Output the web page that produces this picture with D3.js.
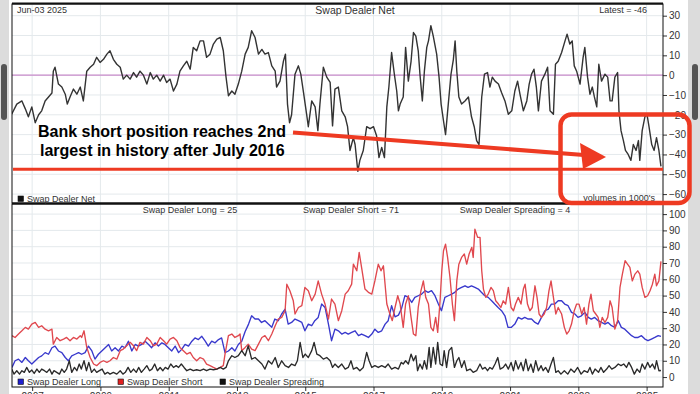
<!DOCTYPE html>
<html>
<head>
<meta charset="utf-8">
<script src="https://cdn.jsdelivr.net/npm/d3@7"></script>
<style>
  body { margin: 0; background: #dcdcdc; }
  .container { width: 700px; height: 394px; }
  svg { display: block; font-family: "Liberation Sans", Arial, sans-serif; }
</style>
</head>
<body>
<div class="container"></div>
<script>
// ---- data (decimal year, value) ----
const netData = [
  [2006.40,-19.7],[2006.55,-14.6],[2006.70,-13],[2006.80,-17],[2006.89,-21],[2006.99,-16],
  [2007.09,-24],[2007.19,-20],[2007.28,-18],[2007.38,-13],[2007.48,-11],[2007.58,-9],
  [2007.62,2],[2007.67,4],[2007.77,-4.5],[2007.87,-6],[2007.97,-9.6],[2008.03,-14.6],
  [2008.11,-11],[2008.21,-7],[2008.31,-9.6],[2008.41,-6],[2008.50,-13],[2008.60,2],
  [2008.70,4],[2008.80,5.5],[2008.89,9],[2008.99,6.4],[2009.09,8],[2009.19,10.6],
  [2009.28,12.3],[2009.38,8],[2009.48,5.5],[2009.58,4],[2009.67,-2],[2009.77,0],
  [2009.87,-2],[2009.97,1.3],[2010.06,-1],[2010.16,2],[2010.26,0],[2010.36,-4.5],
  [2010.46,1.3],[2010.55,-2],[2010.65,0],[2010.75,-3],[2010.85,0],[2010.94,-3.7],
  [2011.04,-2],[2011.14,-8],[2011.24,-4.5],[2011.33,2],[2011.43,4.7],[2011.53,7],
  [2011.63,3],[2011.72,14],[2011.82,12.3],[2011.92,17.3],[2012.02,17.3],[2012.11,9],
  [2012.21,10.6],[2012.31,15.7],[2012.41,18.2],[2012.51,19],[2012.60,12.3],[2012.68,-1],
  [2012.75,-10.4],[2012.85,-8],[2012.94,-9.6],[2013.04,-4.5],[2013.14,2],[2013.24,10.6],
  [2013.33,14],[2013.43,22.4],[2013.53,19],[2013.63,10.6],[2013.73,13],[2013.82,10.6],
  [2013.92,11.4],[2014.02,4.7],[2014.12,2],[2014.16,-6],[2014.26,-3],[2014.36,7],
  [2014.42,10.6],[2014.48,-14.6],[2014.54,-24],[2014.60,-20],[2014.70,0.5],[2014.80,4.7],
  [2014.87,0.5],[2014.95,-8.8],[2015.04,-19.7],[2015.09,-26],[2015.19,-13],[2015.29,-16],
  [2015.37,-28],[2015.43,-14.6],[2015.53,4],[2015.63,-1],[2015.73,-3.7],[2015.80,-25.6],
  [2015.87,-7],[2015.97,-6],[2016.07,-18],[2016.17,-21],[2016.24,-26],[2016.31,-38],
  [2016.41,-31.5],[2016.46,-35],[2016.54,-48.5],[2016.60,-43],[2016.70,-38],[2016.80,-26],
  [2016.90,-27],[2017.00,-26],[2017.09,-30.6],[2017.16,-41.6],[2017.24,-36.5],[2017.32,-41.6],
  [2017.39,-16],[2017.45,-6],[2017.53,11.4],[2017.61,0.5],[2017.68,-8],[2017.73,-18],
  [2017.78,-14.6],[2017.87,-11],[2017.94,14],[2018.02,-3],[2018.10,7],[2018.17,21.5],
  [2018.24,19.7],[2018.31,12.3],[2018.36,0.5],[2018.43,-13],[2018.49,2],[2018.56,14],
  [2018.61,17.3],[2018.68,25],[2018.75,19.7],[2018.85,10.6],[2018.92,-1],[2018.98,-14.6],
  [2019.05,-23],[2019.11,-30],[2019.19,-14.6],[2019.27,0.5],[2019.34,8],[2019.39,17.3],
  [2019.44,2],[2019.50,-11],[2019.58,-14.6],[2019.68,-13],[2019.78,-11],[2019.87,-21],
  [2019.95,-26],[2020.02,-33],[2020.09,-35],[2020.17,-11],[2020.25,0.5],[2020.34,1.3],
  [2020.41,-6],[2020.48,-1],[2020.56,-3],[2020.66,-4.5],[2020.75,-8.8],[2020.85,-13],
  [2020.95,-19.7],[2021.05,-18],[2021.14,-8],[2021.22,-3],[2021.29,-9.6],[2021.39,-18],
  [2021.49,-13],[2021.56,-4.5],[2021.63,0.5],[2021.70,3],[2021.77,-6],[2021.83,-18],
  [2021.92,-3],[2022.02,0.5],[2022.10,4],[2022.17,-18],[2022.27,-19.7],[2022.33,5.5],
  [2022.41,7],[2022.51,11.4],[2022.61,17.3],[2022.67,20.7],[2022.75,15.7],[2022.82,17.3],
  [2022.88,4.7],[2022.95,2],[2023.05,-4.5],[2023.14,9],[2023.19,14],[2023.27,-1],
  [2023.34,-9.6],[2023.41,-6],[2023.47,-11],[2023.54,-16],[2023.60,5.5],[2023.68,-3],
  [2023.78,0.5],[2023.86,-1],[2023.93,-13],[2023.99,-13],[2024.07,-1],[2024.15,1.3],
  [2024.19,-18],[2024.25,-28],[2024.32,-33],[2024.38,-38],[2024.46,-40],[2024.54,-43],
  [2024.61,-35],[2024.69,-38],[2024.76,-33],[2024.80,-43],[2024.87,-28],[2024.95,-21],
  [2025.01,-19.7],[2025.07,-26],[2025.15,-35],[2025.22,-38],[2025.29,-31.5],[2025.36,-38],
  [2025.42,-46]
];

const longData = [
  [2006.41,5.9],[2006.50,10],[2006.60,11],[2006.70,9],[2006.80,12],[2006.89,10],[2006.99,8],
  [2007.09,10],[2007.19,12],[2007.28,13],[2007.38,15],[2007.48,14],[2007.58,18],[2007.67,19],
  [2007.77,16],[2007.87,15],[2007.97,12],[2008.06,10],[2008.16,13],[2008.26,14],[2008.36,15],
  [2008.45,14],[2008.55,15],[2008.65,19],[2008.75,16],[2008.84,11],[2008.94,14],[2009.04,16],
  [2009.14,18],[2009.24,20],[2009.33,16],[2009.43,18],[2009.53,16],[2009.63,19],[2009.72,18],
  [2009.82,22],[2009.92,16],[2010.02,20],[2010.11,19],[2010.21,20],[2010.31,22],[2010.41,20],
  [2010.50,18],[2010.60,21],[2010.70,19],[2010.80,21],[2010.89,20],[2010.99,18],[2011.09,16],
  [2011.19,19],[2011.29,15],[2011.38,17],[2011.48,20],[2011.58,19],[2011.68,22],[2011.77,24],
  [2011.87,23],[2011.97,25],[2012.07,22],[2012.16,19],[2012.26,22],[2012.36,21],[2012.46,23],
  [2012.55,24],[2012.65,15],[2012.75,16],[2012.85,18],[2012.94,16],[2013.04,20],[2013.14,22],
  [2013.24,28],[2013.34,32.5],[2013.43,37.6],[2013.53,35.6],[2013.63,35.6],[2013.72,33.5],
  [2013.82,34.6],[2013.92,32.5],[2014.02,30.5],[2014.11,35.6],[2014.21,34.6],[2014.31,38.7],
  [2014.41,41.7],[2014.50,32.5],[2014.60,33.5],[2014.70,35.6],[2014.80,34.6],[2014.90,33.5],
  [2014.99,28.4],[2015.09,32.5],[2015.19,31.5],[2015.28,34.6],[2015.38,36.6],[2015.48,44.8],
  [2015.58,42.7],[2015.68,32.5],[2015.77,22.3],[2015.87,29.4],[2015.97,28.4],[2016.07,26.4],
  [2016.17,27.4],[2016.26,26.4],[2016.36,27.4],[2016.46,28.4],[2016.56,25.4],[2016.65,26.4],
  [2016.75,25.4],[2016.85,24.3],[2016.95,26.4],[2017.04,29.4],[2017.14,27.4],[2017.24,28.4],
  [2017.34,32.5],[2017.43,34.6],[2017.53,43.8],[2017.63,37],[2017.73,38],[2017.82,42],
  [2017.92,50],[2018.02,48.9],[2018.12,45.8],[2018.21,48.9],[2018.31,49.9],[2018.41,50.9],
  [2018.51,53],[2018.60,52],[2018.70,53],[2018.80,49.9],[2018.90,44.8],[2018.99,40.7],
  [2019.09,48.9],[2019.19,49.9],[2019.29,50.9],[2019.38,52],[2019.48,54],[2019.58,55],
  [2019.68,56],[2019.77,55],[2019.87,56],[2019.97,55],[2020.07,54],[2020.16,52],[2020.26,49.9],
  [2020.36,48.9],[2020.46,46.8],[2020.55,44.8],[2020.65,42.7],[2020.75,40.7],[2020.85,37.6],
  [2020.94,30.5],[2021.04,30.5],[2021.14,32.5],[2021.24,36.6],[2021.34,35.6],[2021.43,36.6],
  [2021.53,35.6],[2021.63,35.6],[2021.73,33.5],[2021.82,32.5],[2021.92,36.6],[2022.02,40.7],
  [2022.12,41.7],[2022.21,44.8],[2022.31,44.8],[2022.41,46.8],[2022.51,46.8],[2022.60,44.8],
  [2022.70,43.8],[2022.80,39.7],[2022.90,38.7],[2022.99,36.6],[2023.09,37.6],[2023.19,39.7],
  [2023.29,36.6],[2023.38,35.6],[2023.48,36.6],[2023.58,34.6],[2023.68,33.5],[2023.78,32.5],
  [2023.87,33.5],[2023.97,31.5],[2024.07,30.5],[2024.17,34.6],[2024.26,30.5],[2024.36,29.4],
  [2024.46,27.4],[2024.56,25.4],[2024.65,24.3],[2024.75,24.3],[2024.85,25.4],[2024.95,23.3],
  [2025.04,22.3],[2025.14,23.3],[2025.24,24.3],[2025.34,25.4],[2025.42,25]
];

const shortData = [
  [2006.41,25.4],[2006.50,24.3],[2006.60,26.4],[2006.70,28.4],[2006.80,30.5],[2006.89,29.4],
  [2006.99,32.5],[2007.09,33.5],[2007.19,30.5],[2007.28,31.5],[2007.38,29.4],[2007.48,28.4],
  [2007.58,29.4],[2007.62,20.2],[2007.72,24.3],[2007.82,22.3],[2007.92,23.3],[2008.01,24.3],
  [2008.11,22.3],[2008.21,24.3],[2008.31,23.3],[2008.41,25.4],[2008.45,24.3],[2008.52,28.4],
  [2008.60,18.2],[2008.70,12],[2008.80,8],[2008.89,7],[2008.99,9],[2009.09,10],[2009.19,9],
  [2009.28,10],[2009.38,12],[2009.48,11],[2009.58,16.2],[2009.67,17.2],[2009.77,19.2],
  [2009.87,21.3],[2009.97,19.2],[2010.06,16.2],[2010.16,21.3],[2010.26,20.2],[2010.36,24.3],
  [2010.46,22.3],[2010.55,19.2],[2010.65,20.2],[2010.75,24.3],[2010.85,22.3],[2010.94,20.2],
  [2011.04,23.3],[2011.14,24.3],[2011.24,22.3],[2011.33,18.2],[2011.43,16.2],[2011.53,14.1],
  [2011.63,15.1],[2011.72,12],[2011.82,10],[2011.92,12],[2012.02,11],[2012.11,8],[2012.21,7],
  [2012.31,5.9],[2012.41,4.9],[2012.51,5.9],[2012.60,7],[2012.65,14.1],[2012.75,25.4],
  [2012.85,26.4],[2012.94,24.3],[2013.04,25.4],[2013.09,26.4],[2013.14,16.2],[2013.24,18.2],
  [2013.33,20.2],[2013.43,17.2],[2013.53,16.2],[2013.63,20.2],[2013.73,24.3],[2013.82,25.4],
  [2013.92,22.3],[2014.02,26.4],[2014.12,31.5],[2014.21,35.6],[2014.31,36.6],[2014.41,40.7],
  [2014.46,57],[2014.55,53],[2014.65,46.8],[2014.70,38.7],[2014.80,42.7],[2014.90,43.8],
  [2014.99,55],[2015.09,53],[2015.19,46.8],[2015.29,50.9],[2015.38,59],[2015.48,50.9],
  [2015.58,44.8],[2015.68,35.6],[2015.77,47.9],[2015.87,44.8],[2015.97,34.6],[2016.07,40.7],
  [2016.17,50.9],[2016.26,53],[2016.36,57],[2016.41,69.3],[2016.51,65.2],[2016.58,76.5],
  [2016.65,67.3],[2016.75,54],[2016.85,52],[2016.95,50.9],[2017.04,59],[2017.14,69.3],
  [2017.22,65.2],[2017.29,68.3],[2017.39,44.8],[2017.48,38.7],[2017.55,34.6],[2017.63,42.7],
  [2017.71,49.9],[2017.78,44.8],[2017.87,30.5],[2017.94,44.8],[2018.02,49.9],[2018.10,36.6],
  [2018.17,26.4],[2018.24,25.4],[2018.31,42.7],[2018.39,53],[2018.46,59],[2018.53,48.9],
  [2018.61,44.8],[2018.68,30.5],[2018.75,28.4],[2018.82,36.6],[2018.88,27.4],[2018.95,46.8],
  [2019.00,65.2],[2019.05,77.5],[2019.11,81.6],[2019.17,73.4],[2019.24,61.1],[2019.31,44.8],
  [2019.37,34.6],[2019.44,59],[2019.50,69.3],[2019.58,73.4],[2019.66,75.5],[2019.73,69.3],
  [2019.80,75.5],[2019.88,79.6],[2019.92,73.4],[2019.97,90.8],[2020.05,85.7],[2020.12,85.7],
  [2020.17,65.2],[2020.22,54],[2020.29,48.9],[2020.36,50.9],[2020.44,55],[2020.51,53],
  [2020.58,46.8],[2020.66,44.8],[2020.73,42.7],[2020.80,46.8],[2020.87,44.8],[2020.95,55],
  [2021.03,42.7],[2021.10,40.7],[2021.16,44.8],[2021.24,48.9],[2021.32,44.8],[2021.39,54],
  [2021.44,57],[2021.51,44.8],[2021.58,40.7],[2021.65,42.7],[2021.73,56],[2021.79,48.9],
  [2021.85,38.7],[2021.92,36.6],[2022.00,38.7],[2022.07,42.7],[2022.14,53],[2022.20,59],
  [2022.27,48.9],[2022.34,38.7],[2022.41,42.7],[2022.51,38.7],[2022.59,30.5],[2022.66,26.4],
  [2022.73,28.4],[2022.80,32.5],[2022.88,40.7],[2022.95,44.8],[2023.02,44.8],[2023.10,38.7],
  [2023.17,42.7],[2023.24,32.5],[2023.31,44.8],[2023.37,50.9],[2023.44,40.7],[2023.51,38.7],
  [2023.58,36.6],[2023.63,30.5],[2023.70,36.6],[2023.78,33.5],[2023.86,36.6],[2023.93,46.8],
  [2023.99,42.7],[2024.07,29.4],[2024.15,34.6],[2024.22,55],[2024.29,63.2],[2024.37,71.4],
  [2024.44,69.3],[2024.51,67.3],[2024.58,59],[2024.66,63.2],[2024.74,65.2],[2024.80,63.2],
  [2024.87,55],[2024.95,48.9],[2025.03,49.9],[2025.10,53],[2025.17,57],[2025.24,63.2],
  [2025.29,56],[2025.36,59],[2025.42,71]
];

const spreadData = [
  [2006.40,4.9],[2006.47,1.8],[2006.55,3.9],[2006.63,1.8],[2006.70,3.9],[2006.77,2.9],
  [2006.84,5.9],[2006.92,2.9],[2006.99,4.3],[2007.06,2.2],[2007.14,4.9],[2007.21,2.9],
  [2007.28,4.9],[2007.36,3.9],[2007.43,2.9],[2007.51,4.9],[2007.58,1.8],[2007.64,3.9],
  [2007.72,2.9],[2007.80,1.8],[2007.87,4.9],[2007.94,2.9],[2008.01,4.9],[2008.09,10],
  [2008.16,2.9],[2008.24,5.9],[2008.31,3.9],[2008.38,8],[2008.44,4.9],[2008.52,10],
  [2008.59,3.9],[2008.66,9],[2008.74,2.9],[2008.82,4.9],[2008.89,2.9],[2008.97,3.9],
  [2009.05,4.9],[2009.13,1.8],[2009.21,2.9],[2009.28,1.8],[2009.38,2.9],[2009.48,1.8],
  [2009.58,3.9],[2009.66,1.8],[2009.73,2.9],[2009.81,5.9],[2009.89,2.9],[2009.97,4.9],
  [2010.05,2.9],[2010.12,5.9],[2010.20,2.9],[2010.28,4.9],[2010.36,7],[2010.44,3.9],
  [2010.51,4.9],[2010.59,8],[2010.67,3.9],[2010.75,5.9],[2010.83,3.9],[2010.90,5.9],
  [2010.98,4.9],[2011.06,8],[2011.14,5.9],[2011.22,7],[2011.29,5.9],[2011.37,8],
  [2011.45,5.9],[2011.53,3.9],[2011.63,4.9],[2011.72,3.9],[2011.82,4.5],[2011.92,3.9],
  [2012.02,4.9],[2012.11,3.9],[2012.21,4.9],[2012.31,4.5],[2012.41,4.9],[2012.51,5.9],
  [2012.60,4.9],[2012.68,5.9],[2012.75,10],[2012.85,13.1],[2012.94,12],[2013.04,13.1],
  [2013.14,16.2],[2013.24,13.1],[2013.33,19.2],[2013.43,11],[2013.53,12],[2013.63,10],
  [2013.73,8],[2013.82,4.9],[2013.92,10],[2014.02,8],[2014.12,12],[2014.21,5.9],
  [2014.31,10],[2014.41,7],[2014.51,5.9],[2014.60,8],[2014.70,7],[2014.77,10],
  [2014.85,21.3],[2014.93,12],[2015.00,14.1],[2015.09,12],[2015.19,16.2],[2015.26,21.3],
  [2015.34,14.1],[2015.43,13.1],[2015.53,11],[2015.63,12],[2015.73,10],[2015.80,5.9],
  [2015.87,8],[2015.97,5.9],[2016.07,8],[2016.17,4.9],[2016.26,5.9],[2016.34,10],
  [2016.41,4.9],[2016.51,5.9],[2016.60,3.9],[2016.70,5.9],[2016.80,15.1],[2016.87,10],
  [2016.95,5.9],[2017.04,7],[2017.14,5.9],[2017.24,7],[2017.34,5.9],[2017.43,8],
  [2017.53,4.9],[2017.63,5.9],[2017.73,4.9],[2017.81,9],[2017.87,8],[2017.94,10],
  [2018.02,8],[2018.10,14.1],[2018.17,10],[2018.24,13.1],[2018.29,3.9],[2018.36,8],
  [2018.43,4.9],[2018.49,10],[2018.56,4.9],[2018.63,18.2],[2018.68,5.9],[2018.75,18.2],
  [2018.82,8],[2018.88,21.3],[2018.95,8],[2019.02,7],[2019.07,16.2],[2019.14,5.9],
  [2019.21,16.2],[2019.29,18.2],[2019.37,5.9],[2019.44,10],[2019.50,12],[2019.58,5.9],
  [2019.66,10],[2019.73,3.9],[2019.83,4.9],[2019.92,2.9],[2020.02,3.9],[2020.12,8],
  [2020.19,4.9],[2020.27,5.9],[2020.34,3.9],[2020.41,5.9],[2020.48,4.9],[2020.56,8],
  [2020.64,12],[2020.71,4.9],[2020.80,5.9],[2020.87,8],[2020.95,4.9],[2021.03,9],
  [2021.10,3.9],[2021.16,10],[2021.24,4.9],[2021.32,9],[2021.39,3.9],[2021.46,11],
  [2021.53,3.9],[2021.61,8],[2021.68,2.9],[2021.75,10],[2021.83,3.9],[2021.91,7],
  [2021.97,3.9],[2022.04,5.9],[2022.12,2.9],[2022.20,8],[2022.27,12],[2022.34,2.9],
  [2022.41,3.9],[2022.49,1.8],[2022.59,3.9],[2022.69,1.8],[2022.78,4.9],[2022.88,2.9],
  [2022.98,5.9],[2023.08,1.8],[2023.17,3.9],[2023.27,2.9],[2023.34,5.9],[2023.41,1.8],
  [2023.49,4.9],[2023.59,2.9],[2023.66,5.9],[2023.74,2.9],[2023.83,4.9],[2023.90,7],
  [2023.98,4.9],[2024.07,5.9],[2024.17,8],[2024.25,7],[2024.33,8],[2024.41,5.9],
  [2024.48,9],[2024.56,5.9],[2024.64,1.8],[2024.72,4.9],[2024.80,2.9],[2024.87,8],
  [2024.95,4.9],[2025.03,9],[2025.10,5.9],[2025.17,8],[2025.24,4.9],[2025.29,10],
  [2025.36,3.9],[2025.42,4]
];

const yearTicks = [2007, 2009, 2011, 2013, 2015, 2017, 2019, 2021, 2023, 2025];
const netTicks = [30, 20, 10, 0, -10, -20, -30, -40, -50, -60];
const volTicks = [0, 10, 20, 30, 40, 50, 60, 70, 80, 90, 100];

const latest = { date: "Jun-03  2025", net: -46, long: 25, short: 71, spread: 4 };
const prevLow = -47.5;   // level of the July 2016 low, marked by the red line

// ---- layout ----
const W = 700, H = 394;
const left = 12, right = 663;
const top1 = 4, bot1 = 203, top2 = 204, bot2 = 387;

const svg = d3.select(".container")
  .append("svg")
    .attr("width", W)
    .attr("height", H);

// frame: grey sides + white card
svg.append("rect").attr("width", W).attr("height", H).attr("fill", "#dcdcdc");
svg.append("rect").attr("x", 9).attr("y", 0).attr("width", 679).attr("height", H).attr("fill", "#fff");
svg.append("rect").attr("x", 1).attr("y", 64).attr("width", 6).attr("height", 56).attr("rx", 3).attr("fill", "#555");
svg.append("rect").attr("x", 692).attr("y", 64).attr("width", 6).attr("height", 56).attr("rx", 3).attr("fill", "#555");

const x = d3.scaleLinear().domain([2006.41, 2025.48]).range([left, right]);
const yNet = d3.scaleLinear().domain([-64.5, 35.9]).range([bot1, top1]);
const yVol = d3.scaleLinear().domain([-6.1, 106.2]).range([bot2, top2]);

const defs = svg.append("defs");
defs.append("clipPath").attr("id", "clipTop")
  .append("rect").attr("x", left).attr("y", top1).attr("width", right - left).attr("height", bot1 - top1);
defs.append("clipPath").attr("id", "clipBot")
  .append("rect").attr("x", left).attr("y", top2).attr("width", right - left).attr("height", bot2 - top2);

// grids
const grid = svg.append("g").attr("stroke", "#e4e9ec").attr("stroke-width", 1);
grid.selectAll(".vt").data(yearTicks).enter().append("line")
  .attr("x1", d => x(d)).attr("x2", d => x(d)).attr("y1", top1).attr("y2", bot1);
grid.selectAll(".vb").data(yearTicks).enter().append("line")
  .attr("x1", d => x(d)).attr("x2", d => x(d)).attr("y1", top2).attr("y2", bot2);
grid.selectAll(".ht").data(netTicks).enter().append("line")
  .attr("x1", left).attr("x2", right).attr("y1", d => yNet(d)).attr("y2", d => yNet(d));
grid.selectAll(".hb").data(volTicks).enter().append("line")
  .attr("x1", left).attr("x2", right).attr("y1", d => yVol(d)).attr("y2", d => yVol(d));

// zero line
svg.append("line")
  .attr("x1", left).attr("x2", right)
  .attr("y1", yNet(0)).attr("y2", yNet(0))
  .attr("stroke", "#c98ccb").attr("stroke-width", 1.2);

// series
const lineNet = d3.line().x(d => x(d[0])).y(d => yNet(d[1]));
const lineVol = d3.line().x(d => x(d[0])).y(d => yVol(d[1]));

svg.append("path").datum(netData)
  .attr("clip-path", "url(#clipTop)")
  .attr("fill", "none").attr("stroke", "#333").attr("stroke-width", 1.4)
  .attr("stroke-linejoin", "round")
  .attr("d", lineNet);

const volSeries = [
  { data: longData, color: "#3838cc" },
  { data: shortData, color: "#e0484e" },
  { data: spreadData, color: "#2a2a2a" }
];
svg.append("g").attr("clip-path", "url(#clipBot)")
  .selectAll("path").data(volSeries).enter().append("path")
    .attr("fill", "none")
    .attr("stroke", d => d.color)
    .attr("stroke-width", 1.35)
    .attr("stroke-linejoin", "round")
    .attr("d", d => lineVol(d.data));

// axes
const axisNet = svg.append("g")
  .attr("transform", `translate(${right},0)`)
  .call(d3.axisRight(yNet).tickValues(netTicks).tickSize(4).tickSizeOuter(0));
const axisVol = svg.append("g")
  .attr("transform", `translate(${right},0)`)
  .call(d3.axisRight(yVol).tickValues(volTicks).tickSize(4).tickSizeOuter(0));
const axisX = svg.append("g")
  .attr("transform", `translate(0,${bot2})`)
  .call(d3.axisBottom(x).tickValues(yearTicks).tickFormat(d3.format("d")).tickSize(4).tickSizeOuter(0));

[axisNet, axisVol, axisX].forEach(a => {
  a.select(".domain").remove();
  a.selectAll("text").attr("font-size", 10).attr("fill", "#333").attr("font-family", "Liberation Sans, Arial, sans-serif");
  a.selectAll("line").attr("stroke", "#333");
});
axisNet.selectAll("text").attr("x", 6);
axisVol.selectAll("text").attr("x", 6);
axisX.selectAll("text").attr("y", 6);

// panel frames
const frame = svg.append("g").attr("fill", "none").attr("stroke", "#111");
frame.append("rect").attr("x", left).attr("y", top1).attr("width", right - left).attr("height", bot1 - top1).attr("stroke-width", 1);
frame.append("rect").attr("x", left).attr("y", top2).attr("width", right - left).attr("height", bot2 - top2).attr("stroke-width", 1);
frame.append("line").attr("x1", left).attr("x2", right).attr("y1", 3.5).attr("y2", 3.5).attr("stroke-width", 2);
frame.append("line").attr("x1", left).attr("x2", right).attr("y1", 203.5).attr("y2", 203.5).attr("stroke-width", 2);

// header texts
const txt = svg.append("g").attr("fill", "#333").attr("font-size", 9);
txt.append("text").attr("x", 17).attr("y", 13).text(latest.date);
txt.append("text").attr("x", 355).attr("y", 14).attr("text-anchor", "middle").attr("font-size", 10.5).text("Swap Dealer Net");
txt.append("text").attr("x", 647).attr("y", 13).attr("text-anchor", "end").text(`Latest = ${latest.net}`);
txt.append("text").attr("x", 655).attr("y", 201).attr("text-anchor", "end").text("volumes in 1000's");

txt.append("text").attr("x", 190).attr("y", 213).attr("text-anchor", "middle").text(`Swap Dealer Long = ${latest.long}`);
txt.append("text").attr("x", 351).attr("y", 213).attr("text-anchor", "middle").text(`Swap Dealer Short = ${latest.short}`);
txt.append("text").attr("x", 515).attr("y", 213).attr("text-anchor", "middle").text(`Swap Dealer Spreading = ${latest.spread}`);

// legends
const legNet = [{ label: "Swap Dealer Net", color: "#111", x: 18, y: 196 }];
const legVol = [
  { label: "Swap Dealer Long", color: "#2020d0", x: 18, y: 379 },
  { label: "Swap Dealer Short", color: "#e02020", x: 118, y: 379 },
  { label: "Swap Dealer Spreading", color: "#111", x: 220, y: 379 }
];
const leg = svg.append("g").selectAll("g").data(legNet.concat(legVol)).enter().append("g");
leg.append("rect")
  .attr("x", d => d.x).attr("y", d => d.y)
  .attr("width", 5.5).attr("height", 5.5)
  .attr("fill", d => d.color).attr("stroke", "#111").attr("stroke-width", 0.6);
leg.append("text")
  .attr("x", d => d.x + 9).attr("y", d => d.y + 6)
  .attr("font-size", 9).attr("fill", "#333")
  .text(d => d.label);

// ---- video annotation overlay ----
const red = "#ee3a22";
const ann = svg.append("g");
ann.append("text")
  .attr("x", 38).attr("y", 137)
  .attr("font-size", 16).attr("font-weight", "bold").attr("fill", "#000")
  .text("Bank short position reaches 2nd");
ann.append("text")
  .attr("x", 40).attr("y", 156)
  .attr("font-size", 16).attr("font-weight", "bold").attr("fill", "#000")
  .text("largest in history after July 2016");

ann.append("line")
  .attr("x1", left + 1).attr("x2", right)
  .attr("y1", yNet(prevLow)).attr("y2", yNet(prevLow))
  .attr("stroke", red).attr("stroke-width", 3);

ann.append("line")
  .attr("x1", 293).attr("y1", 132.5).attr("x2", 584).attr("y2", 155)
  .attr("stroke", red).attr("stroke-width", 4);
ann.append("path")
  .attr("d", "M606,157 L580,143 L583,169 Z")
  .attr("fill", red);

ann.append("rect")
  .attr("x", 560.5).attr("y", 114.5).attr("width", 129).attr("height", 88.5)
  .attr("rx", 11)
  .attr("fill", "none").attr("stroke", red).attr("stroke-width", 4.5);
</script>
</body>
</html>
